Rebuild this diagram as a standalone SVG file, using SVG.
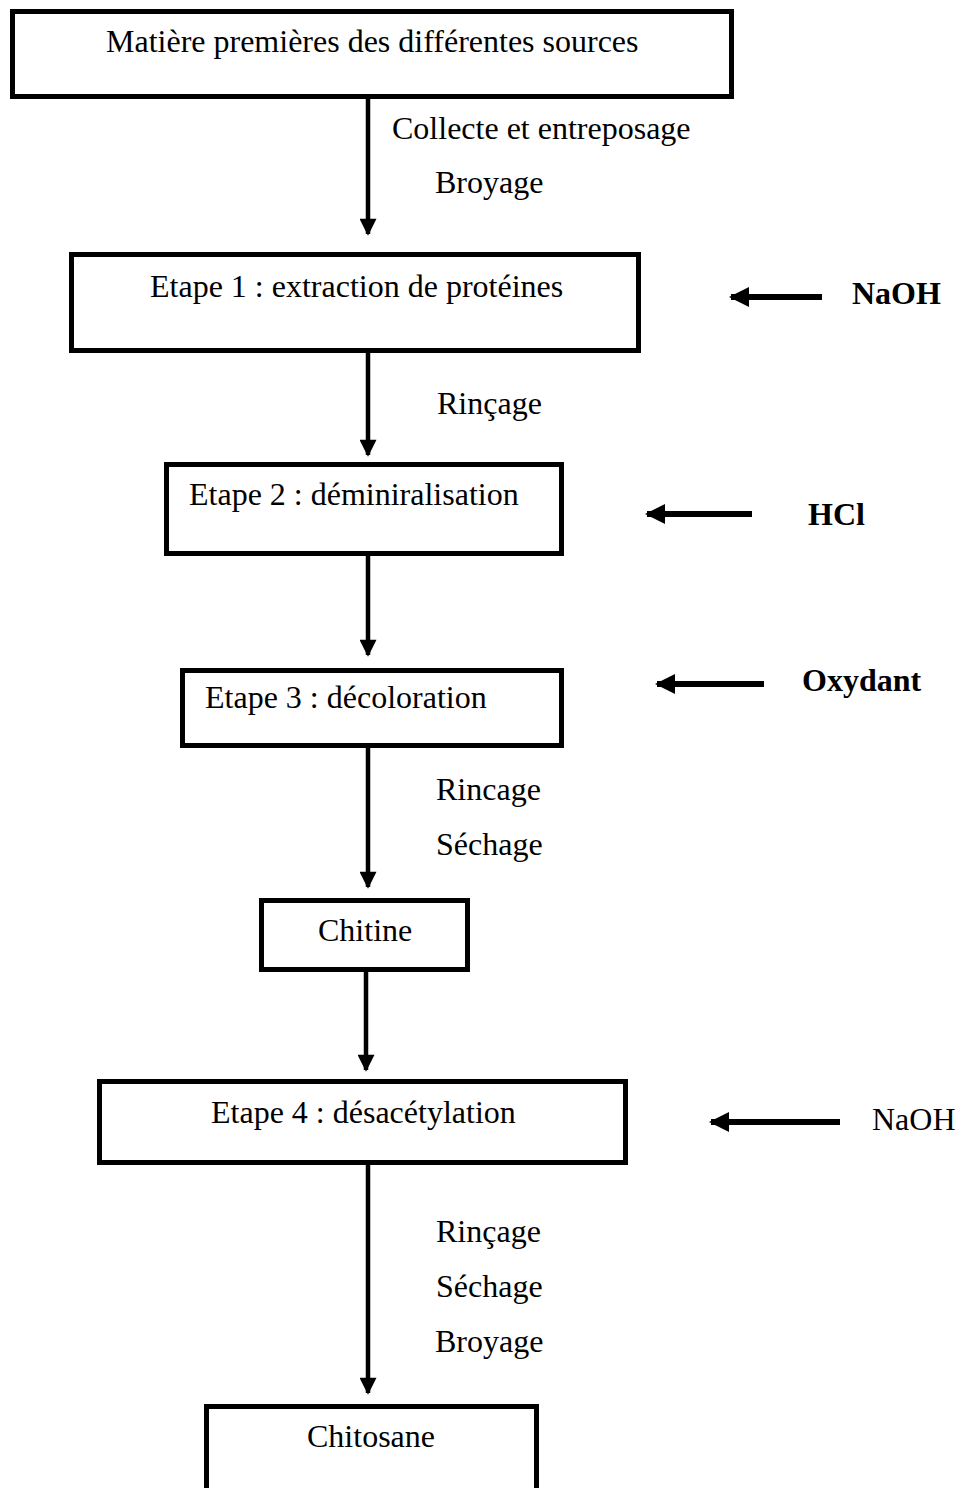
<svg xmlns="http://www.w3.org/2000/svg" width="963" height="1488" viewBox="0 0 963 1488">
<defs>
<marker id="ah" viewBox="0 0 10 10" refX="9" refY="5" markerWidth="20" markerHeight="17" markerUnits="userSpaceOnUse" orient="auto">
<path d="M0,0 L10,5 L0,10 Z" fill="#000"/>
</marker>
<marker id="ah2" viewBox="0 0 10 10" refX="9" refY="5" markerWidth="20" markerHeight="20" markerUnits="userSpaceOnUse" orient="auto">
<path d="M0,0 L10,5 L0,10 Z" fill="#000"/>
</marker>
<style>
.box{fill:#fff;stroke:#000;stroke-width:5}
.t{font-family:"Liberation Serif","Times New Roman",serif;font-size:32px;fill:#000}
.b{font-weight:bold}
.c{stroke:#000;stroke-width:4.5;fill:none;marker-end:url(#ah)}
.h{stroke:#000;stroke-width:6;fill:none;marker-end:url(#ah2)}
</style>
</defs>
<g id="connectors">
<line class="c" x1="368" y1="98" x2="368" y2="234"/>
<line class="c" x1="368" y1="353" x2="368" y2="455"/>
<line class="c" x1="368" y1="556" x2="368" y2="655"/>
<line class="c" x1="368" y1="748" x2="368" y2="887"/>
<line class="c" x1="366" y1="972" x2="366" y2="1070"/>
<line class="c" x1="368" y1="1165" x2="368" y2="1393"/>
<line class="h" x1="822" y1="297" x2="731" y2="297"/>
<line class="h" x1="752" y1="514" x2="647" y2="514"/>
<line class="h" x1="764" y1="684" x2="657" y2="684"/>
<line class="h" x1="840" y1="1122" x2="711" y2="1122"/>
</g>
<g id="labels">
<text class="t" x="392" y="139">Collecte et entreposage</text>
<text class="t" x="435" y="193">Broyage</text>
<text class="t" x="437" y="414">Rinçage</text>
<text class="t" x="436" y="800">Rincage</text>
<text class="t" x="436" y="855">Séchage</text>
<text class="t" x="436" y="1242">Rinçage</text>
<text class="t" x="436" y="1297">Séchage</text>
<text class="t" x="435" y="1352">Broyage</text>
<text class="t b" x="852" y="304">NaOH</text>
<text class="t b" x="808" y="525">HCl</text>
<text class="t b" x="802" y="691">Oxydant</text>
<text class="t" x="872" y="1130">NaOH</text>
</g>
<g id="n1">
<rect class="box" x="12.5" y="11.5" width="719" height="85"/>
<text class="t" x="106" y="52">Matière premières des différentes sources</text>
</g>
<g id="n2">
<rect class="box" x="71.5" y="254.5" width="567" height="96"/>
<text class="t" x="150" y="297">Etape 1 : extraction de protéines</text>
</g>
<g id="n3">
<rect class="box" x="166.5" y="464.5" width="395" height="89"/>
<text class="t" x="189" y="505">Etape 2 : déminiralisation</text>
</g>
<g id="n4">
<rect class="box" x="182.5" y="670.5" width="379" height="75"/>
<text class="t" x="205" y="708">Etape 3 : décoloration</text>
</g>
<g id="n5">
<rect class="box" x="261.5" y="900.5" width="206" height="69"/>
<text class="t" x="318" y="941">Chitine</text>
</g>
<g id="n6">
<rect class="box" x="99.5" y="1081.5" width="526" height="81"/>
<text class="t" x="211" y="1123">Etape 4 : désacétylation</text>
</g>
<g id="n7">
<rect class="box" x="206.5" y="1406.5" width="330" height="84"/>
<text class="t" x="307" y="1447">Chitosane</text>
</g>
</svg>
